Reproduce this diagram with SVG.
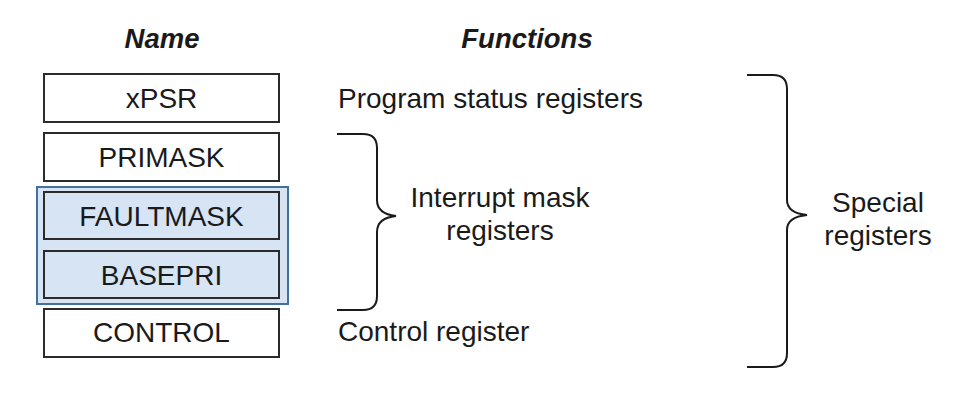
<svg xmlns="http://www.w3.org/2000/svg" width="964" height="400" viewBox="0 0 964 400">
<style>
text{font-family:"Liberation Sans",Arial,sans-serif;font-size:28px;fill:#1a1a1a}
.hdr{font-weight:bold;font-style:italic;font-size:27.5px;text-anchor:middle}
.c{text-anchor:middle}
.box{fill:#fff;stroke:#2b2b2b;stroke-width:2}
.hbox{fill:#d6e4f4;stroke:#2b2b2b;stroke-width:2}
.brace{fill:none;stroke:#1a1a1a;stroke-width:2}
</style>
<rect width="964" height="400" fill="#fff"/>
<text class="hdr" x="162" y="48">Name</text>
<text class="hdr" x="527" y="48">Functions</text>
<g id="group-highlight">
<rect x="37" y="187" width="251" height="117" fill="#d6e4f4" stroke="#41719c" stroke-width="2"/>
</g>
<g id="xPSR"><rect class="box" x="44" y="74" width="235" height="48"/><text class="c" x="161.5" y="108">xPSR</text></g>
<g id="PRIMASK"><rect class="box" x="44" y="133" width="235" height="48"/><text class="c" x="161.5" y="167">PRIMASK</text></g>
<g id="FAULTMASK"><rect class="hbox" x="44" y="192" width="235" height="47"/><text class="c" x="161.5" y="226">FAULTMASK</text></g>
<g id="BASEPRI"><rect class="hbox" x="44" y="251" width="235" height="47"/><text class="c" x="161.5" y="285">BASEPRI</text></g>
<g id="CONTROL"><rect class="box" x="44" y="309" width="235" height="48"/><text class="c" x="161.5" y="342">CONTROL</text></g>
<g id="connectors">
<path class="brace" d="M337,134 L363,134 Q377,134 377,148 L377,200 Q377,214 396,216 Q377,218 377,232 L377,296 Q377,310 363,310 L337,310"/>
<path class="brace" d="M747,75 L773,75 Q787,75 787,89 L787,200 Q787,213 807,215 Q787,217 787,230 L787,353 Q787,367 773,367 L747,367"/>
</g>
<g id="labels">
<text x="338" y="108">Program status registers</text>
<text class="c" x="500" y="207">Interrupt mask</text>
<text class="c" x="500" y="240">registers</text>
<text x="338" y="341">Control register</text>
<text class="c" x="878" y="212">Special</text>
<text class="c" x="878" y="245">registers</text>
</g>
</svg>
